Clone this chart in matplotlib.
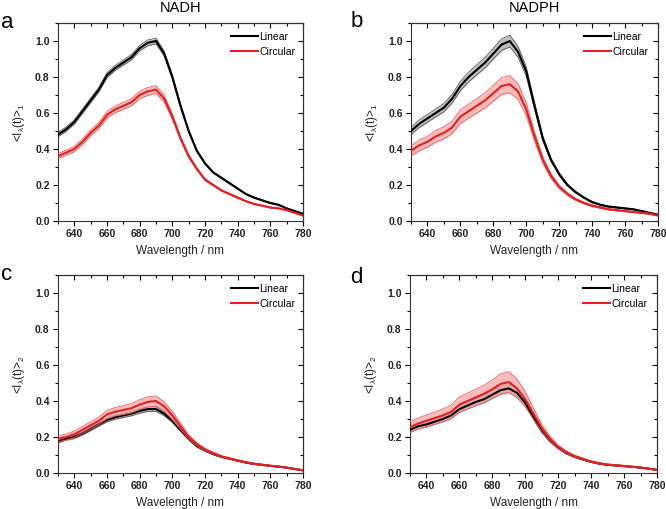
import numpy as np
import matplotlib
matplotlib.use("Agg")
import matplotlib.pyplot as plt
from matplotlib.ticker import MultipleLocator

plt.rcParams['font.family'] = ['Liberation Sans', 'DejaVu Sans']
plt.rcParams['mathtext.fontset'] = 'custom'
plt.rcParams['mathtext.rm'] = 'Liberation Sans'
plt.rcParams['mathtext.it'] = 'Liberation Sans'

wavelength = [630, 635, 640, 645, 650, 655, 660, 665, 670, 675, 680, 685, 690, 695,
              700, 705, 710, 715, 720, 725, 730, 735, 740, 745, 750, 755, 760, 765,
              770, 775, 780]

a_linear = [0.48, 0.51, 0.55, 0.61, 0.67, 0.73, 0.81, 0.85, 0.88, 0.91, 0.96, 0.99, 1.00, 0.93,
            0.80, 0.64, 0.50, 0.39, 0.32, 0.27, 0.24, 0.21, 0.18, 0.15, 0.13, 0.115, 0.10, 0.09,
            0.07, 0.055, 0.04]
a_linear_err = [0.012, 0.012, 0.012, 0.012, 0.013, 0.013, 0.014, 0.014, 0.014, 0.015, 0.015, 0.016, 0.016, 0.014,
                0.012, 0.010, 0.008, 0.006, 0.005, 0.004, 0.004, 0.004, 0.003, 0.003, 0.003, 0.003, 0.003, 0.003,
                0.002, 0.002, 0.002]
a_circular = [0.36, 0.38, 0.40, 0.44, 0.49, 0.53, 0.59, 0.62, 0.64, 0.66, 0.70, 0.72, 0.73, 0.68,
              0.58, 0.46, 0.36, 0.29, 0.23, 0.20, 0.17, 0.15, 0.13, 0.11, 0.095, 0.085, 0.075, 0.07,
              0.06, 0.045, 0.03]
a_circular_err = [0.014, 0.014, 0.015, 0.016, 0.016, 0.017, 0.018, 0.019, 0.019, 0.020, 0.021, 0.022, 0.022, 0.020,
                  0.016, 0.012, 0.009, 0.007, 0.006, 0.005, 0.004, 0.004, 0.004, 0.003, 0.003, 0.003, 0.003, 0.003,
                  0.002, 0.002, 0.002]

b_linear = [0.50, 0.54, 0.57, 0.60, 0.63, 0.68, 0.75, 0.80, 0.84, 0.88, 0.93, 0.98, 1.00, 0.94,
            0.83, 0.64, 0.46, 0.34, 0.26, 0.20, 0.16, 0.13, 0.105, 0.09, 0.08, 0.075, 0.07, 0.065,
            0.055, 0.045, 0.035]
b_linear_err = [0.020, 0.021, 0.022, 0.022, 0.023, 0.024, 0.026, 0.027, 0.028, 0.029, 0.030, 0.032, 0.033, 0.030,
                0.026, 0.020, 0.014, 0.010, 0.008, 0.006, 0.005, 0.004, 0.004, 0.003, 0.003, 0.003, 0.003, 0.003,
                0.003, 0.002, 0.002]
b_circular = [0.39, 0.42, 0.44, 0.47, 0.49, 0.52, 0.58, 0.61, 0.64, 0.67, 0.71, 0.75, 0.76, 0.72,
              0.62, 0.47, 0.34, 0.25, 0.19, 0.15, 0.12, 0.10, 0.085, 0.075, 0.065, 0.06, 0.055, 0.05,
              0.045, 0.04, 0.03]
b_circular_err = [0.028, 0.030, 0.031, 0.032, 0.034, 0.035, 0.038, 0.039, 0.040, 0.042, 0.044, 0.047, 0.048, 0.044,
                  0.036, 0.026, 0.018, 0.013, 0.010, 0.008, 0.006, 0.005, 0.005, 0.004, 0.004, 0.004, 0.003, 0.003,
                  0.003, 0.003, 0.002]

c_linear = [0.175, 0.19, 0.20, 0.22, 0.245, 0.27, 0.295, 0.31, 0.32, 0.33, 0.345, 0.355, 0.355, 0.33,
            0.29, 0.24, 0.19, 0.15, 0.125, 0.105, 0.09, 0.08, 0.068, 0.058, 0.05, 0.045, 0.04, 0.035,
            0.03, 0.022, 0.015]
c_linear_err = [0.008, 0.008, 0.009, 0.009, 0.010, 0.010, 0.011, 0.012, 0.012, 0.012, 0.013, 0.013, 0.013, 0.012,
                0.010, 0.008, 0.006, 0.005, 0.004, 0.003, 0.003, 0.003, 0.002, 0.002, 0.002, 0.002, 0.002, 0.002,
                0.002, 0.002, 0.002]
c_circular = [0.19, 0.20, 0.215, 0.24, 0.265, 0.29, 0.325, 0.34, 0.35, 0.36, 0.38, 0.395, 0.40, 0.37,
              0.32, 0.26, 0.20, 0.16, 0.13, 0.11, 0.092, 0.08, 0.07, 0.06, 0.052, 0.046, 0.04, 0.036,
              0.03, 0.022, 0.015]
c_circular_err = [0.016, 0.017, 0.018, 0.019, 0.020, 0.021, 0.023, 0.024, 0.025, 0.026, 0.027, 0.028, 0.028, 0.026,
                  0.022, 0.017, 0.012, 0.009, 0.007, 0.006, 0.005, 0.004, 0.004, 0.003, 0.003, 0.003, 0.002, 0.002,
                  0.002, 0.002, 0.002]

d_linear = [0.24, 0.26, 0.27, 0.285, 0.30, 0.32, 0.355, 0.375, 0.395, 0.41, 0.435, 0.46, 0.47, 0.445,
            0.39, 0.31, 0.235, 0.18, 0.14, 0.11, 0.09, 0.075, 0.062, 0.052, 0.045, 0.042, 0.038, 0.034,
            0.03, 0.024, 0.017]
d_linear_err = [0.014, 0.014, 0.015, 0.015, 0.016, 0.017, 0.018, 0.019, 0.020, 0.020, 0.021, 0.022, 0.023, 0.021,
                0.018, 0.014, 0.010, 0.008, 0.006, 0.005, 0.004, 0.003, 0.003, 0.003, 0.002, 0.002, 0.002, 0.002,
                0.002, 0.002, 0.002]
d_circular = [0.255, 0.275, 0.29, 0.305, 0.32, 0.34, 0.38, 0.40, 0.42, 0.44, 0.465, 0.495, 0.505, 0.47,
              0.41, 0.33, 0.25, 0.19, 0.145, 0.115, 0.093, 0.078, 0.064, 0.054, 0.047, 0.043, 0.039, 0.035,
              0.03, 0.024, 0.017]
d_circular_err = [0.030, 0.031, 0.033, 0.034, 0.036, 0.038, 0.042, 0.044, 0.046, 0.048, 0.052, 0.056, 0.058, 0.052,
                  0.042, 0.030, 0.020, 0.014, 0.010, 0.008, 0.006, 0.005, 0.004, 0.004, 0.003, 0.003, 0.003, 0.003,
                  0.002, 0.002, 0.002]

panel_letters = ['a', 'b', 'c', 'd']
panel_titles = ['NADH', 'NADPH', '', '']
ylabels = [r'<I$_{\lambda}$(t)>$_1$', r'<I$_{\lambda}$(t)>$_1$',
           r'<I$_{\lambda}$(t)>$_2$', r'<I$_{\lambda}$(t)>$_2$']
series_names = ['Linear', 'Circular']
xlabel = 'Wavelength / nm'

panels = [
    (a_linear, a_linear_err, a_circular, a_circular_err),
    (b_linear, b_linear_err, b_circular, b_circular_err),
    (c_linear, c_linear_err, c_circular, c_circular_err),
    (d_linear, d_linear_err, d_circular, d_circular_err),
]

W, H = 666, 509
fig = plt.figure(figsize=(W / 100, H / 100), dpi=100)

# axes boxes in pixels: left, top, right, bottom
boxes = [(58, 23, 303, 221), (411, 23, 658, 221),
         (58, 275, 303, 473), (410, 275, 657, 473)]
# panel letter baseline positions in pixels
letter_pos = [(1, 28), (351, 27), (1, 280), (350, 283)]

line_colors = ['#000000', '#e41f1f']
fill_colors = ['#a8a8a8', '#f3a5a5']
edge_colors = ['#555555', '#e86060']

x = np.array(wavelength)
for i, (lin, lin_e, cir, cir_e) in enumerate(panels):
    l, t, r, b = boxes[i]
    ax = fig.add_axes([l / W, 1 - b / H, (r - l) / W, (b - t) / H])
    for j, (y, e) in enumerate([(lin, lin_e), (cir, cir_e)]):
        y = np.array(y)
        e = np.array(e)
        ax.fill_between(x, y - e, y + e, color=fill_colors[j], alpha=0.75, lw=0, zorder=1 + j)
        ax.plot(x, y - e, color=edge_colors[j], lw=0.6, zorder=2 + j)
        ax.plot(x, y + e, color=edge_colors[j], lw=0.6, zorder=2 + j)
        ax.plot(x, y, color=line_colors[j], lw=1.5, zorder=3 + j, label=series_names[j])
    ax.set_xlim(630, 780)
    ax.set_ylim(0, 1.1)
    ax.xaxis.set_major_locator(MultipleLocator(20))
    ax.xaxis.set_minor_locator(MultipleLocator(10))
    ax.yaxis.set_minor_locator(MultipleLocator(0.1))
    ax.set_yticks(np.arange(0, 1.01, 0.2))
    ax.set_yticklabels([f'{v:.1f}' for v in np.arange(0, 1.01, 0.2)])
    ax.tick_params(axis='both', which='major', direction='out', length=3.5, width=0.8,
                   labelsize=7.5, pad=2.5, labelcolor='#222222')
    ax.tick_params(axis='both', which='minor', direction='out', length=2, width=0.8)
    for lab in ax.get_xticklabels() + ax.get_yticklabels():
        lab.set_fontweight('bold')
    for s in ax.spines.values():
        s.set_linewidth(0.8)
        s.set_color('#333333')
    axt = ax.secondary_xaxis('top')
    axt.xaxis.set_major_locator(MultipleLocator(20))
    axt.xaxis.set_minor_locator(MultipleLocator(10))
    axt.tick_params(which='major', direction='in', length=3.5, width=0.8, labeltop=False)
    axt.tick_params(which='minor', direction='in', length=2, width=0.8)
    axr = ax.secondary_yaxis('right')
    axr.yaxis.set_major_locator(MultipleLocator(0.2))
    axr.yaxis.set_minor_locator(MultipleLocator(0.1))
    axr.tick_params(which='major', direction='in', length=3.5, width=0.8, labelright=False)
    axr.tick_params(which='minor', direction='in', length=2, width=0.8)
    ax.set_xlabel(xlabel, fontsize=8.5, labelpad=4, color='#222222')
    ax.set_ylabel(ylabels[i], fontsize=8.5, labelpad=6, color='#222222')
    hx = 173 / (r - l)
    hy = (b - t - 9) / (b - t)
    ax.legend(loc='upper left', frameon=False, fontsize=7.5, handlelength=2.6,
              handletextpad=0.1, borderaxespad=0, borderpad=0, labelspacing=0.45,
              bbox_to_anchor=(hx, hy))
    if panel_titles[i]:
        ax.set_title(panel_titles[i], fontsize=10.5, pad=8)
    lx, ly = letter_pos[i]
    fig.text(lx / W, 1 - ly / H, panel_letters[i], fontsize=16, ha='left', va='baseline')

fig.savefig('out.png', dpi=100)
